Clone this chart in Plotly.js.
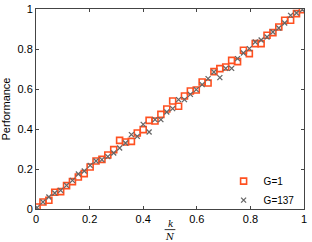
<!DOCTYPE html>
<html>
<head>
<meta charset="utf-8">
<script src="https://cdn.plot.ly/plotly-3.0.1.min.js"></script>
<style>html,body{margin:0;padding:0;background:#fff;}#chart{width:312px;height:242px;}</style>
</head>
<body>
<div id="chart"></div>
<script>
// k/N positions
const kOverN = [0.004, 0.026, 0.048, 0.070, 0.092, 0.114, 0.136, 0.158, 0.180, 0.202,
  0.224, 0.246, 0.268, 0.290, 0.312, 0.334, 0.356, 0.378, 0.400, 0.422,
  0.444, 0.466, 0.488, 0.510, 0.532, 0.554, 0.576, 0.598, 0.620, 0.642,
  0.664, 0.686, 0.708, 0.730, 0.752, 0.774, 0.796, 0.818, 0.840, 0.862,
  0.884, 0.906, 0.928, 0.950, 0.972, 0.994];
// Performance, G=1
const perfG1 = [0.010, 0.035, 0.044, 0.084, 0.087, 0.117, 0.137, 0.160, 0.177, 0.210,
  0.240, 0.248, 0.270, 0.297, 0.343, 0.335, 0.338, 0.380, 0.397, 0.443,
  0.440, 0.473, 0.500, 0.540, 0.514, 0.565, 0.590, 0.595, 0.635, 0.630,
  0.687, 0.702, 0.710, 0.743, 0.737, 0.794, 0.777, 0.827, 0.827, 0.869,
  0.882, 0.910, 0.944, 0.944, 0.977, 0.997];
// Performance, G=137
const perfG137 = [0.007, 0.035, 0.060, 0.080, 0.093, 0.118, 0.143, 0.175, 0.190, 0.218,
  0.240, 0.247, 0.262, 0.280, 0.305, 0.330, 0.372, 0.363, 0.423, 0.385,
  0.447, 0.447, 0.485, 0.502, 0.547, 0.547, 0.573, 0.597, 0.622, 0.652,
  0.685, 0.657, 0.703, 0.703, 0.752, 0.780, 0.802, 0.835, 0.845, 0.860,
  0.885, 0.905, 0.930, 0.968, 0.980, 0.997];
const seriesNames = ['G=1', 'G=137'];
const tickVals = [0, 0.2, 0.4, 0.6, 0.8, 1];
const tickText = ['0', '0.2', '0.4', '0.6', '0.8', '1'];

const traces = [
  {x: kOverN, y: perfG1, name: seriesNames[0], type: 'scatter', mode: 'markers',
   marker: {symbol: 'square-open', size: 6, color: '#FF5020', line: {width: 1.6, color: '#FF5020'}}},
  {x: kOverN, y: perfG137, name: seriesNames[1], type: 'scatter', mode: 'markers',
   marker: {symbol: 'x-thin-open', size: 5, color: '#666666', line: {width: 1.3, color: '#666666'}}}
];
const axisCommon = {
  range: [0, 1], tickvals: tickVals, ticktext: tickText,
  showgrid: false, zeroline: false, showline: true, linecolor: '#444', linewidth: 1,
  mirror: 'ticks', ticks: 'inside', ticklen: 3, tickcolor: '#444',
  tickfont: {family: 'Liberation Sans, Arial, sans-serif', size: 11, color: '#000'}
};
const layout = {
  width: 312, height: 242,
  margin: {l: 36, r: 8, t: 9, b: 33},
  paper_bgcolor: '#fff', plot_bgcolor: '#fff',
  showlegend: true,
  legend: {x: 0.70, y: -0.028, xanchor: 'left', yanchor: 'bottom', bgcolor: 'rgba(0,0,0,0)',
    font: {family: 'Liberation Sans, Arial, sans-serif', size: 10, color: '#000'},
    itemwidth: 30, tracegroupgap: 0},
  xaxis: Object.assign({}, axisCommon),
  yaxis: Object.assign({}, axisCommon, {
    title: {text: 'Performance', standoff: 4,
      font: {family: 'Liberation Sans, Arial, sans-serif', size: 11, color: '#000'}}}),
  annotations: [
    {xref: 'paper', yref: 'paper', x: 0.5, y: -0.075, xanchor: 'center', yanchor: 'middle',
     text: '<i>k</i>', showarrow: false,
     font: {family: 'DejaVu Serif, Liberation Serif, serif', size: 9, color: '#000'}},
    {xref: 'paper', yref: 'paper', x: 0.5, y: -0.138, xanchor: 'center', yanchor: 'middle',
     text: '<i>N</i>', showarrow: false,
     font: {family: 'DejaVu Serif, Liberation Serif, serif', size: 9, color: '#000'}}
  ],
  shapes: [
    {type: 'line', xref: 'paper', yref: 'paper', x0: 0.48, x1: 0.52, y0: -0.103, y1: -0.103,
     line: {color: '#000', width: 0.8}}
  ]
};
Plotly.newPlot('chart', traces, layout, {displayModeBar: false, staticPlot: true});
</script>
</body>
</html>
